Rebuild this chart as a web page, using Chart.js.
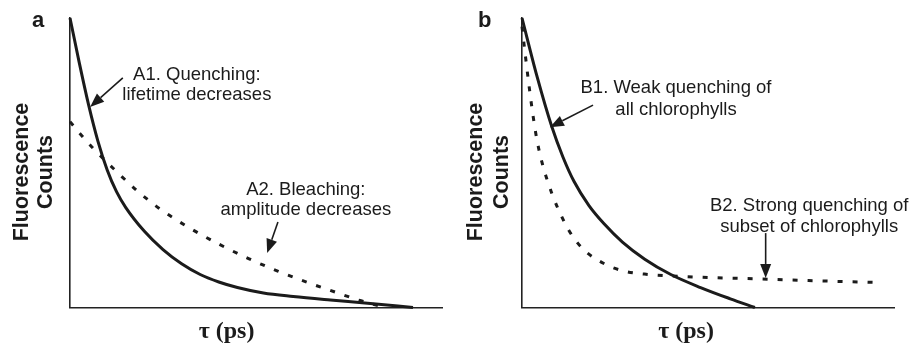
<!DOCTYPE html>
<html>
<head>
<meta charset="utf-8">
<script src="https://cdn.jsdelivr.net/npm/chart.js@4/dist/chart.umd.min.js"></script>
<style>
  html, body { margin: 0; padding: 0; background: #ffffff; }
  body { width: 912px; height: 351px; position: relative; overflow: hidden; }
  canvas { position: absolute; top: 0; }
  #cA { left: 0; }
  #cB { left: 456px; }
</style>
</head>
<body>
<canvas id="cA" width="456" height="351"></canvas>
<canvas id="cB" width="456" height="351"></canvas>
<script>
// ---- Panel a data (x: tau, arbitrary 0-100; y: counts, arbitrary 0-100) ----
const tauA1 = [0, 2.5, 5, 7.5, 10, 12.5, 15, 20, 25, 30, 35, 40, 45, 52, 60, 70, 80, 92.2];
const countsA1 = [100, 84.5, 70, 57.5, 47.5, 40, 34.5, 26.3, 20.0, 15.1, 11.4, 8.8, 6.9, 5.0, 3.8, 2.6, 1.5, 0];
const tauA2 = [0, 3, 6, 12, 18, 24, 32, 40, 48, 56, 64, 72, 78, 83.3];
const countsA2 = [64.2, 59.6, 55.3, 47.6, 40.4, 34.2, 27.6, 21.9, 16.9, 12.5, 8.6, 5.0, 2.4, 0.5];

// ---- Panel b data ----
const tauB1 = [0, 4, 8, 11, 14, 18, 22, 27, 33, 40, 48, 56, 62.6];
const countsB1 = [100, 80, 62.5, 52, 43.5, 35.2, 29, 22.6, 16.7, 11.4, 6.9, 3.0, 0];
const tauB2 = [0, 1, 2, 3, 4, 5.4, 8, 11, 13.5, 17, 22, 27, 34, 42, 51, 60, 77, 94.4];
const countsB2 = [97, 86, 75.5, 66, 58, 50, 39.5, 30.5, 24.8, 19.5, 15.2, 12.7, 11.4, 10.8, 10.3, 10.0, 9.3, 8.7];

// ---- Text ----
const yTitle = ['Fluorescence', 'Counts'];
const xTitle = 'τ (ps)';
const notesA = [
  { lines: ['A1. Quenching:', 'lifetime decreases'], x: 34.1, y: [78.6, 71.6] },
  { lines: ['A2. Bleaching:', 'amplitude decreases'], x: 63.4, y: [38.9, 32.0] }
];
const notesB = [
  { lines: ['B1. Weak quenching of', 'all chlorophylls'], x: 41.4, y: [74.1, 66.5] },
  { lines: ['B2. Strong quenching of', 'subset of chlorophylls'], x: 77.2, y: [33.3, 26.1] }
];
const arrowsA = [
  { from: [14.2, 79.3], to: [5.4, 69.3] },
  { from: [55.9, 29.5], to: [53.0, 18.8] }
];
const arrowsB = [
  { from: [19.1, 69.9], to: [7.5, 62.3] },
  { from: [65.5, 25.7], to: [65.5, 10.2] }
];

const INK = '#1b1b1b';
const SANS = '"Liberation Sans", Arial, Helvetica, sans-serif';
const SERIF = '"Liberation Serif", "Times New Roman", Times, serif';

function pts(xs, ys) { return xs.map((x, i) => ({ x: x, y: ys[i] })); }

function annotPlugin(cfg) {
  return {
    id: 'annot',
    afterDraw(chart) {
      const ctx = chart.ctx;
      const xs = chart.scales.x, ys = chart.scales.y;
      ctx.save();
      ctx.fillStyle = INK;
      ctx.strokeStyle = INK;
      // annotation text
      ctx.font = '18.5px ' + SANS;
      ctx.textAlign = 'center';
      ctx.textBaseline = 'alphabetic';
      cfg.notes.forEach(n => {
        n.lines.forEach((t, i) => {
          ctx.fillText(t, xs.getPixelForValue(n.x), ys.getPixelForValue(n.y[i]));
        });
      });
      // arrows
      cfg.arrows.forEach(a => {
        const x1 = xs.getPixelForValue(a.from[0]), y1 = ys.getPixelForValue(a.from[1]);
        const x2 = xs.getPixelForValue(a.to[0]), y2 = ys.getPixelForValue(a.to[1]);
        const ang = Math.atan2(y2 - y1, x2 - x1);
        const L = 14, W = 5.5;
        const bx = x2 - L * Math.cos(ang), by = y2 - L * Math.sin(ang);
        ctx.lineWidth = 1.6;
        ctx.beginPath(); ctx.moveTo(x1, y1); ctx.lineTo(bx, by); ctx.stroke();
        ctx.beginPath();
        ctx.moveTo(x2, y2);
        ctx.lineTo(bx + W * Math.sin(ang), by - W * Math.cos(ang));
        ctx.lineTo(bx - W * Math.sin(ang), by + W * Math.cos(ang));
        ctx.closePath(); ctx.fill();
      });
      // y title (rotated, two lines)
      ctx.font = 'bold 21.5px ' + SANS;
      ctx.textAlign = 'center';
      yTitle.forEach((t, i) => {
        ctx.save();
        ctx.translate(cfg.yTitleX[i], 172);
        ctx.rotate(-Math.PI / 2);
        ctx.fillText(t, 0, 0);
        ctx.restore();
      });
      // x title
      ctx.font = 'bold 24px ' + SERIF;
      ctx.fillText(xTitle, cfg.xTitleX, 338);
      // panel letter
      ctx.font = 'bold 22px ' + SANS;
      ctx.textAlign = 'left';
      ctx.fillText(cfg.letter, cfg.letterX, 27);
      ctx.restore();
    }
  };
}

function makeChart(id, solidX, solidY, dashX, dashY, pad, cfg) {
  const axisCommon = {
    type: 'linear', min: 0, max: 100,
    grid: { display: false, drawTicks: false },
    ticks: { display: false },
    border: { display: true, color: '#222', width: 1.6 },
    title: { display: false }
  };
  return new Chart(document.getElementById(id), {
    type: 'line',
    data: {
      datasets: [
        { data: pts(solidX, solidY), borderColor: INK, borderWidth: 3, pointRadius: 0,
          cubicInterpolationMode: 'monotone', fill: false, clip: false },
        { data: pts(dashX, dashY), borderColor: INK, borderWidth: 3, pointRadius: 0,
          borderDash: [5, 10], cubicInterpolationMode: 'monotone', fill: false, clip: false }
      ]
    },
    options: {
      responsive: false, animation: false, devicePixelRatio: 1,
      layout: { padding: pad },
      plugins: { legend: { display: false }, tooltip: { enabled: false }, title: { display: false } },
      scales: { x: Object.assign({}, axisCommon), y: Object.assign({}, axisCommon) }
    },
    plugins: [annotPlugin(cfg)]
  });
}

makeChart('cA', tauA1, countsA1, tauA2, countsA2,
  { left: 70, right: 14, top: 18, bottom: 43.5 },
  { notes: notesA, arrows: arrowsA, yTitleX: [28, 52], xTitleX: 226.5, letter: 'a', letterX: 32 });
makeChart('cB', tauB1, countsB1, tauB2, countsB2,
  { left: 66, right: 18, top: 18, bottom: 43.5 },
  { notes: notesB, arrows: arrowsB, yTitleX: [26, 52], xTitleX: 230, letter: 'b', letterX: 22 });
</script>
</body>
</html>
